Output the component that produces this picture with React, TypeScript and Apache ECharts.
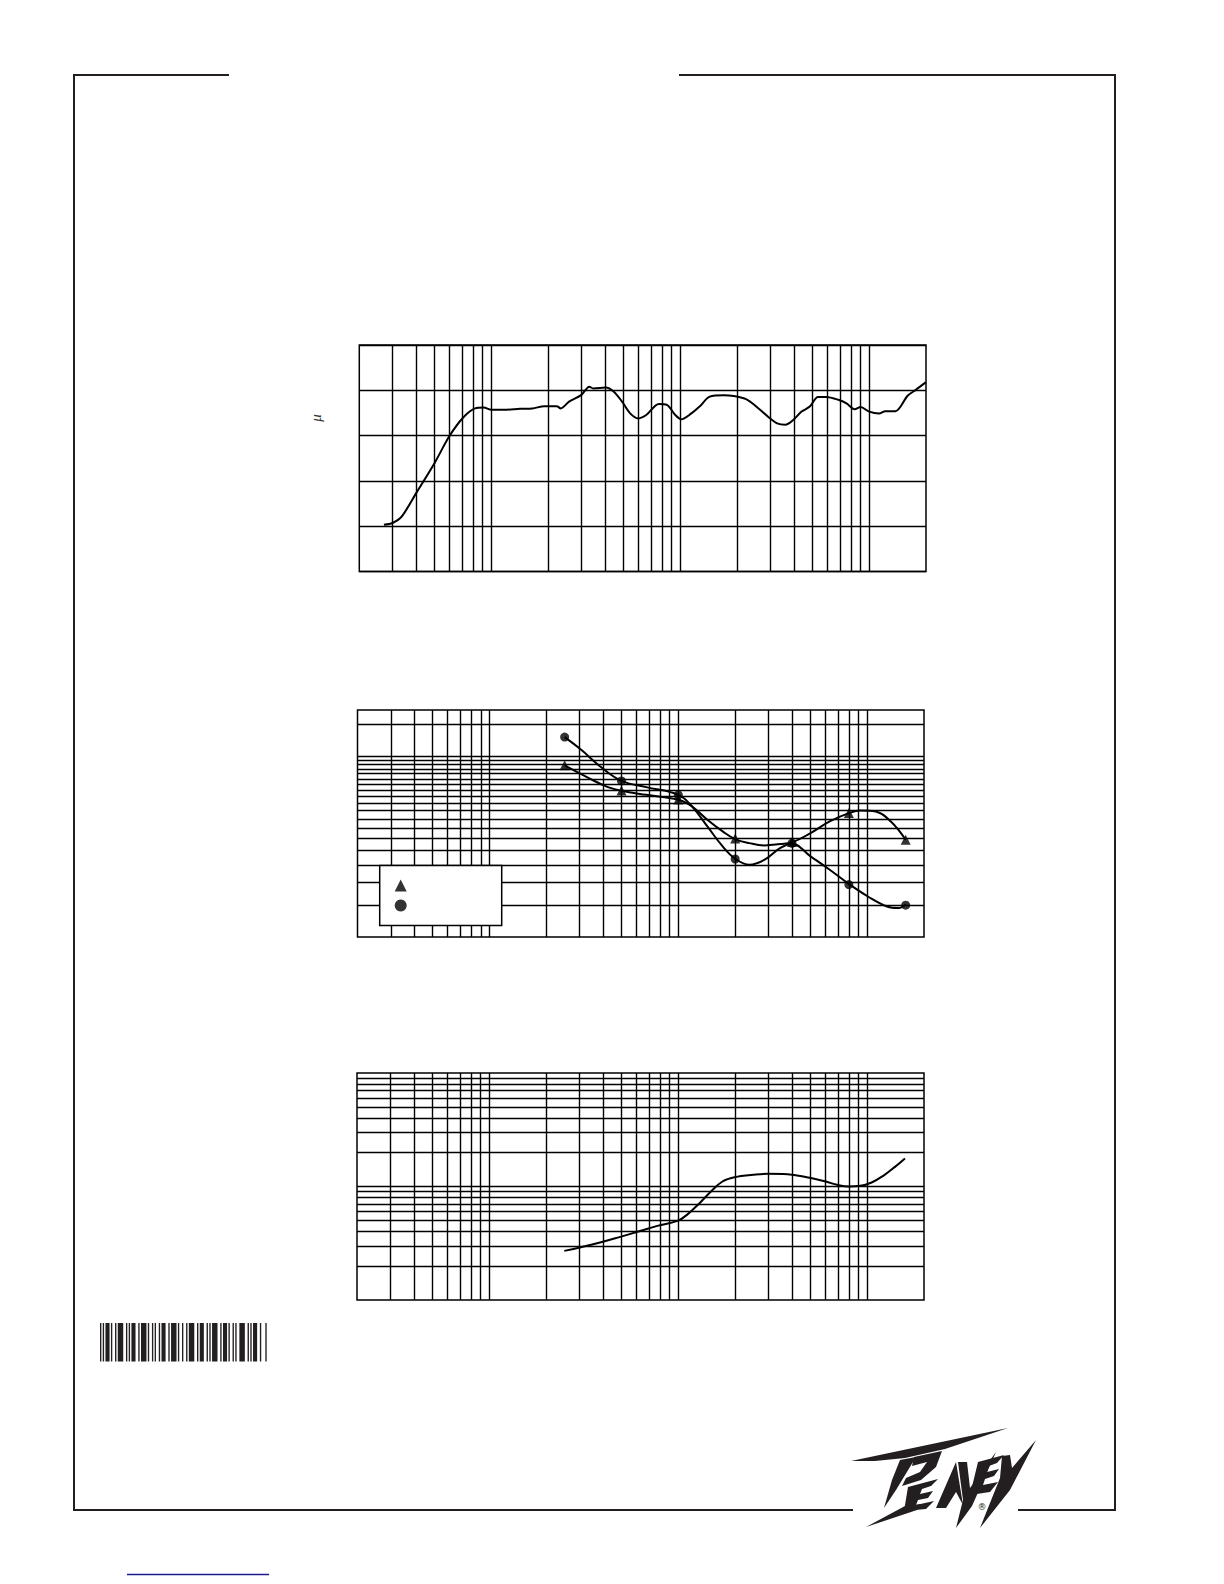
import React, { useEffect, useRef } from "react";
import * as echarts from "echarts";

// ---------- shared frequency axis ----------
const X_MIN = 20;
const X_MAX = 20000;
const FREQ_GRID = [30, 40, 50, 60, 70, 80, 90, 100, 200, 300, 400, 500, 600, 700, 800, 900, 1000, 2000, 3000, 4000, 5000, 6000, 7000, 8000, 9000, 10000];

// ---------- chart 1 : frequency response ----------
const FR_Y_MIN = 70;
const FR_Y_MAX = 120;
const FR_Y_STEP = 10;
const FR_FREQ = [27, 30, 33.5, 40, 50, 60, 71, 82, 91, 100, 116, 142, 165, 191, 222, 233, 258, 300, 330, 347, 403, 445, 492, 543, 600, 663, 770, 850, 939, 1012, 1146, 1266, 1433, 1706, 2188, 2416, 2946, 3257, 3598, 3975, 4391, 4851, 5358, 5918, 6869, 7588, 8382, 9020, 10000, 11290, 12160, 13770, 15990, 17660, 20000];
const FR_DB = [80.3, 80.7, 82.1, 87.3, 93.9, 99.9, 104.0, 106.0, 106.2, 105.7, 105.7, 105.9, 106.0, 106.5, 106.5, 106.0, 107.5, 109.0, 110.8, 110.4, 110.6, 109.7, 107.5, 104.9, 103.8, 104.6, 107.0, 106.8, 104.6, 103.6, 104.9, 106.4, 108.6, 108.9, 108.2, 107.1, 104.0, 102.7, 102.4, 103.5, 105.3, 106.4, 108.5, 108.5, 107.9, 107.1, 105.8, 106.3, 105.3, 104.9, 105.4, 105.4, 108.8, 110.1, 111.8];

// ---------- chart 2 : beamwidth ----------
const BW_Y_MIN = 20;
const BW_Y_MAX = 360;
const BW_GRID = [30, 40, 50, 60, 70, 80, 90, 100, 110, 120, 130, 140, 150, 160, 170, 180, 190, 200, 300];
const OCT_FREQ = [250, 500, 1000, 2000, 4000, 8000, 16000];
const BW_H = [178, 129, 115, 70, 67, 97, 69];
const BW_V = [255, 146, 122, 54, 66, 39, 30];
const BW_H_CURVE_F = [250, 336, 424, 500, 676, 1000, 1183, 1425, 1717, 2000, 2380, 2868, 3455, 4000, 5016, 6333, 8000, 9196, 11080, 13350, 16000];
const BW_H_CURVE_DEG = [177.6, 151.1, 134.8, 128.7, 122.2, 114.8, 105.4, 89.0, 76.7, 69.6, 66.1, 64.2, 65.3, 66.7, 75.1, 87.1, 96.8, 100.2, 98.9, 87.1, 69];
const BW_V_CURVE_F = [250, 306, 386, 500, 676, 1000, 1183, 1425, 1717, 2000, 2380, 2868, 3455, 4000, 5016, 6333, 8000, 10093, 12742, 14660, 16000];
const BW_V_CURVE_DEG = [254.7, 216.8, 175.4, 146, 134.8, 122.2, 105.4, 81.7, 63.4, 54.2, 50.2, 53.5, 62.0, 65.6, 55.8, 47.1, 39.3, 33.5, 29.5, 28.9, 30.3];
const BW_NAMES = ["Horizontal", "Vertical"];

// ---------- chart 3 : directivity ----------
const Q_Y_MIN = 1;
const Q_Y_MAX = 100;
const Q_GRID = [2, 3, 4, 5, 6, 7, 8, 9, 10, 20, 30, 40, 50, 60, 70, 80, 90];
const Q_FREQ = [250, 306, 386, 499, 616, 777, 1000, 1129, 1298, 1493, 1717, 2000, 2494, 3004, 3793, 4789, 6045, 6954, 7996, 9196, 10572, 12165, 13990, 15860];
const Q_VAL = [2.71, 2.92, 3.21, 3.62, 4.01, 4.50, 5.01, 5.74, 7.13, 9.03, 11.07, 12.09, 12.67, 12.94, 12.85, 12.09, 11.07, 10.34, 10.0, 10.14, 10.85, 12.42, 14.82, 17.66];

// ---------- decoration ----------
const BARCODE = [1, 1, 1, 1, 3, 1, 1, 2, 1, 1, 4, 2, 1, 1, 1, 1, 3, 2, 1, 1, 4, 1, 1, 2, 1, 1, 1, 2, 1, 1, 3, 2, 1, 1, 4, 1, 1, 2, 1, 2, 1, 1, 4, 2, 1, 1, 3, 2, 1, 1, 1, 1, 4, 2, 1, 1, 3, 1, 1, 2, 1, 1, 1, 2, 4, 2, 1, 1, 1, 1, 3, 2, 1, 3, 1];

const zip = (a: number[], b: number[]) => a.map((v, i) => [v, b[i]]);

const hiddenAxis = {
  axisLine: { show: false },
  axisTick: { show: false },
  axisLabel: { show: false },
  splitLine: { show: false },
};

const GRID_LINE = { color: "#000", width: 1.4, type: "solid" as const };

function markLines(xs: number[], ys: number[]) {
  return {
    silent: true,
    symbol: ["none", "none"],
    label: { show: false },
    lineStyle: GRID_LINE,
    emphasis: { disabled: true },
    data: [...xs.map((v) => ({ xAxis: v })), ...ys.map((v) => ({ yAxis: v }))],
  };
}

function buildGraphics() {
  const stroke = "#231f20";
  const g: any[] = [];
  const line = (x1: number, y1: number, x2: number, y2: number, color = stroke, w = 2) =>
    g.push({ type: "line", shape: { x1, y1, x2, y2 }, style: { stroke: color, lineWidth: w } });
  // page frame
  line(73.5, 75, 229, 75);
  line(679, 75, 1115, 75);
  line(74, 74, 74, 1511);
  line(1115, 74, 1115, 1511);
  line(73, 1510, 853, 1510);
  line(1018, 1510, 1116, 1510);
  // blue rule
  line(127, 1574.5, 269, 1574.5, "#1c1c8c", 1.6);
  // barcode
  const total = BARCODE.reduce((s, v) => s + v, 0);
  const k = 166.7 / total;
  let acc = 0;
  BARCODE.forEach((w, i) => {
    if (i % 2 === 0) {
      g.push({ type: "rect", shape: { x: 100 + acc * k, y: 1323, width: w * k, height: 38.5 }, style: { fill: "#231f20" } });
    }
    acc += w;
  });
  // logo
  const polys: number[][][] = [
    // swoosh
    [[851, 1461], [1008, 1428], [945, 1449], [905, 1458], [875, 1461]],
    // P stem
    [[900, 1460], [916, 1457], [896, 1490], [884, 1508], [892, 1480]],
    // P bowl
    [[914, 1457], [942, 1451], [936, 1467], [921, 1480], [902, 1486], [906, 1478], [920, 1472], [927, 1462], [912, 1466]],
    // E
    [[908, 1487], [938, 1479], [931, 1486], [922, 1489], [920, 1494], [933, 1491], [928, 1498], [918, 1500], [916, 1505], [934, 1501], [926, 1509], [904, 1511]],
    [[905, 1506], [922, 1504], [917, 1510], [866, 1527]],
    // A
    [[936, 1508], [956, 1462], [963, 1505], [956, 1492], [946, 1508]],
    // V
    [[958, 1462], [967, 1462], [970, 1488], [996, 1452], [972, 1506], [956, 1528], [963, 1500]],
    // E
    [[978, 1462], [1004, 1455], [997, 1463], [989, 1466], [987, 1472], [999, 1469], [994, 1476], [985, 1479], [983, 1485], [998, 1482], [990, 1492], [970, 1495]],
    // Y
    [[1002, 1456], [1010, 1455], [1012, 1468], [1036, 1440], [1010, 1490], [980, 1528], [1000, 1478]],
  ];
  polys.forEach((p) => g.push({ type: "polygon", shape: { points: p }, style: { fill: "#231f20" } }));
  g.push({
    type: "text",
    x: 982,
    y: 1507,
    style: { text: "®", fill: "#231f20", font: '9px "DejaVu Sans"', textAlign: "center", textVerticalAlign: "middle" },
  });
  // mu from axis title
  g.push({
    type: "text",
    x: 316,
    y: 418,
    rotation: Math.PI / 2,
    style: { text: "μ", fill: "#333", font: 'italic 15px "Liberation Serif"', textAlign: "center", textVerticalAlign: "middle" },
  });
  return g;
}

export default function App() {
  const ref = useRef<HTMLDivElement>(null);
  useEffect(() => {
    if (!ref.current) return;
    const chart = echarts.init(ref.current, undefined, { renderer: "svg" });
    const gridBase = { show: true, borderColor: "#000", borderWidth: 1.5, backgroundColor: "transparent", containLabel: false };
    const option: any = {
      animation: false,
      backgroundColor: "#fff",
      grid: [
        { ...gridBase, left: 359.3, top: 345, width: 566.7, height: 226.5 },
        { ...gridBase, left: 357.5, top: 710, width: 566.5, height: 227 },
        { ...gridBase, left: 357, top: 1073, width: 567, height: 227 },
      ],
      xAxis: [0, 1, 2].map((i) => ({ type: "log", logBase: 10, min: X_MIN, max: X_MAX, gridIndex: i, ...hiddenAxis })),
      yAxis: [
        {
          type: "value",
          min: FR_Y_MIN,
          max: FR_Y_MAX,
          interval: FR_Y_STEP,
          gridIndex: 0,
          ...hiddenAxis,
          splitLine: { show: true, lineStyle: GRID_LINE },
        },
        { type: "log", logBase: 10, min: BW_Y_MIN, max: BW_Y_MAX, gridIndex: 1, ...hiddenAxis },
        { type: "log", logBase: 10, min: Q_Y_MIN, max: Q_Y_MAX, gridIndex: 2, ...hiddenAxis },
      ],
      legend: {
        show: true,
        left: 379.7,
        top: 865.5,
        orient: "vertical",
        data: [
          { name: BW_NAMES[0], icon: "triangle" },
          { name: BW_NAMES[1], icon: "circle" },
        ],
        itemWidth: 12,
        itemHeight: 12,
        itemGap: 8,
        padding: [14, 95, 14, 15],
        backgroundColor: "#fff",
        borderColor: "#000",
        borderWidth: 1.5,
        borderRadius: 0,
        selectedMode: false,
        formatter: () => "",
        textStyle: { fontSize: 12 },
        z: 20,
      },
      series: [
        {
          type: "line",
          xAxisIndex: 0,
          yAxisIndex: 0,
          data: zip(FR_FREQ, FR_DB),
          showSymbol: false,
          smooth: 0.3,
          lineStyle: { color: "#000", width: 2 },
          markLine: markLines(FREQ_GRID, []),
          z: 3,
        },
        {
          type: "line",
          xAxisIndex: 1,
          yAxisIndex: 1,
          data: zip(BW_H_CURVE_F, BW_H_CURVE_DEG),
          showSymbol: false,
          smooth: 0.4,
          lineStyle: { color: "#000", width: 2 },
          markLine: markLines(FREQ_GRID, BW_GRID),
          z: 3,
        },
        {
          type: "line",
          xAxisIndex: 1,
          yAxisIndex: 1,
          data: zip(BW_V_CURVE_F, BW_V_CURVE_DEG),
          showSymbol: false,
          smooth: 0.4,
          lineStyle: { color: "#000", width: 2 },
          z: 3,
        },
        {
          name: BW_NAMES[0],
          type: "scatter",
          xAxisIndex: 1,
          yAxisIndex: 1,
          data: zip(OCT_FREQ, BW_H),
          symbol: "triangle",
          symbolSize: 10,
          itemStyle: { color: "#000" },
          z: 4,
        },
        {
          name: BW_NAMES[1],
          type: "scatter",
          xAxisIndex: 1,
          yAxisIndex: 1,
          data: zip(OCT_FREQ, BW_V),
          symbol: "circle",
          symbolSize: 9,
          itemStyle: { color: "#000" },
          z: 4,
        },
        {
          type: "line",
          xAxisIndex: 2,
          yAxisIndex: 2,
          data: zip(Q_FREQ, Q_VAL),
          showSymbol: false,
          smooth: 0.4,
          lineStyle: { color: "#000", width: 2 },
          markLine: markLines(FREQ_GRID, Q_GRID),
          z: 3,
        },
      ],
      graphic: buildGraphics(),
    };
    chart.setOption(option);
    return () => chart.dispose();
  }, []);
  return <div ref={ref} style={{ position: "absolute", left: 0, top: 0, width: 1224, height: 1584, background: "#fff" }} />;
}
